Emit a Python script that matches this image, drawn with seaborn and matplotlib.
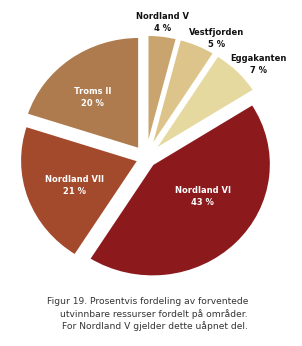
import matplotlib
matplotlib.use('Agg')
import matplotlib.pyplot as plt
import seaborn as sns

# data (clockwise from top)
areas = ['Nordland V', 'Vestfjorden', 'Eggakanten', 'Nordland VI', 'Nordland VII', 'Troms II']
shares = [4, 5, 7, 43, 21, 20]
colors = ['#c9a46e', '#dcc48a', '#e6d9a0', '#8c1a1d', '#a44a2c', '#ae7b4e']
caption = ('Figur 19. Prosentvis fordeling av forventede\n'
           'utvinnbare ressurser fordelt på områder.\n'
           'For Nordland V gjelder dette uåpnet del.')

# style: explode and label placement (pie radius units)
explode = [0.10, 0.10, 0.10, 0.08, 0.07, 0.10]
label_pos = [(0.14, 1.23), (0.61, 1.09), (0.97, 0.85),
             (0.49, -0.35), (-0.62, -0.25), (-0.46, 0.55)]
label_col = ['#111111', '#111111', '#111111', 'white', 'white', 'white']

sns.set_style('white')

fig = plt.figure(figsize=(3.02, 3.46), dpi=100)
ax = fig.add_axes([0, 0, 1, 1])
wedges, _ = ax.pie(shares, colors=sns.color_palette(colors), startangle=90,
                   counterclock=False, explode=explode, radius=1.02,
                   wedgeprops={'edgecolor': 'white', 'linewidth': 1.5})

for name, val, (x, y), c in zip(areas, shares, label_pos, label_col):
    ax.text(x, y, f'{name}\n{val} %', ha='center', va='center', fontsize=6,
            fontweight='bold', color=c, linespacing=1.45)

ax.set_aspect('auto')
ax.set_xlim(-146 / 116, (302 - 146) / 116)
ax.set_ylim(-(346 - 158) / 110, 158 / 110)
ax.axis('off')

fig.text(248 / 302, 1 - 297 / 346, caption, ha='right', va='top',
         multialignment='right', fontsize=6.6, color='#333333', linespacing=1.35,
         family=['Liberation Sans Narrow', 'DejaVu Sans'])

fig.savefig('out.png', dpi=100, facecolor='white')
